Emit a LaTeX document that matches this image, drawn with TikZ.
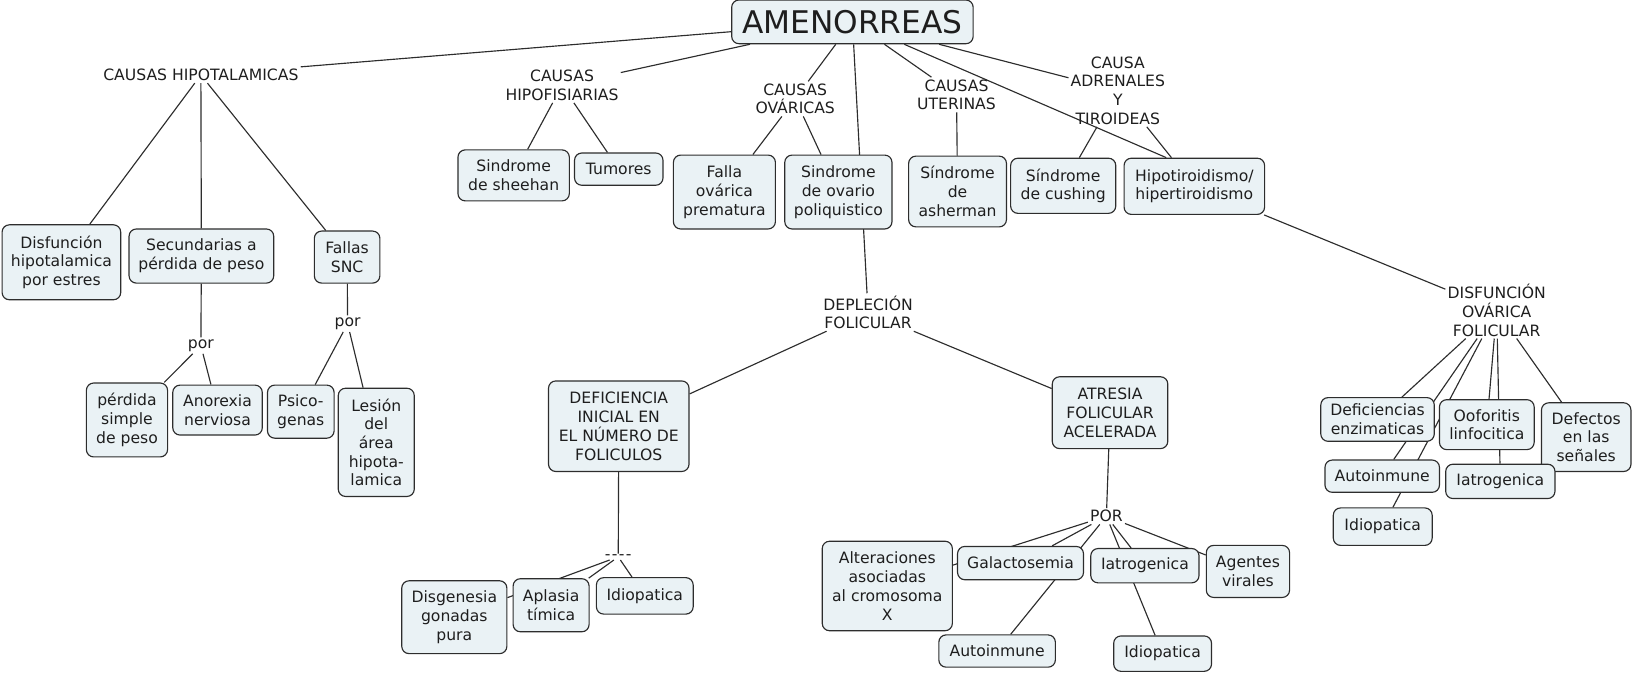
\documentclass[tikz,border=0pt]{standalone}
\usepackage{fontspec}
\setmainfont{DejaVu Sans}
\definecolor{boxfill}{RGB}{234,242,245}
\definecolor{edgec}{RGB}{45,45,45}
\definecolor{txtc}{RGB}{30,30,30}
\pgfdeclarelayer{background}
\pgfsetlayers{background,main}
\begin{document}
\begin{tikzpicture}[x=1pt,y=-1pt,
  every node/.style={font=\fontsize{15}{18}\selectfont, text=txtc, align=center, inner sep=0pt},
  box/.style={draw=edgec, fill=boxfill, rounded corners=7pt, line width=1.1pt},
  lbl/.style={inner sep=2pt},
  con/.style={draw=edgec, line width=1.1pt}]
\useasboundingbox (0,0) rectangle (1568,647.6);

% root
\node[box, minimum width=232pt, minimum height=42pt, font=\fontsize{30}{34}\selectfont] (amen) at (819,21) {AMENORREAS};

% labels
\node[lbl] (hipot) at (193,72) {CAUSAS HIPOTALAMICAS};
\node[lbl] (hipof) at (540,82) {CAUSAS\\HIPOFISIARIAS};
\node[lbl] (lovar) at (764,95) {CAUSAS\\OVÁRICAS};
\node[lbl] (luter) at (919,91) {CAUSAS\\UTERINAS};
\node[lbl] (ladre) at (1074,87) {CAUSA\\ADRENALES\\Y\\TIROIDEAS};
\node[lbl] (por1) at (193,332) {por};
\node[lbl] (por2) at (334,311) {por};
\node[lbl] (deple) at (834,300) {DEPLECIÓN\\FOLICULAR};
\node[lbl, inner sep=0.5pt] (dash) at (594,535) {-\kern1.3pt-\kern1.3pt-\kern1.3pt-};
\node[lbl] (porm) at (1063,496) {POR};
\node[lbl] (disfo) at (1438,298) {DISFUNCIÓN\\OVÁRICA\\FOLICULAR};

% left boxes
\node[box, minimum width=114pt, minimum height=72pt] (disf) at (59,252) {Disfunción\\hipotalamica\\por estres};
\node[box, minimum width=139pt, minimum height=52pt] (secu) at (193.5,246) {Secundarias a\\pérdida de peso};
\node[box, minimum width=63pt, minimum height=50pt] (fall) at (333.5,247) {Fallas\\SNC};
\node[box, minimum width=78pt, minimum height=71pt] (perd) at (122,403.5) {pérdida\\simple\\de peso};
\node[box, minimum width=86pt, minimum height=48pt] (anor) at (209,394) {Anorexia\\nerviosa};
\node[box, minimum width=64pt, minimum height=51pt] (psic) at (289,395.5) {Psico-\\genas};
\node[box, minimum width=73pt, minimum height=104pt] (lesi) at (361.5,425) {Lesión\\del\\área\\hipota-\\lamica};

% top row boxes
\node[box, minimum width=107pt, minimum height=49pt] (shee) at (493.5,168.5) {Sindrome\\de sheehan};
\node[box, minimum width=85pt, minimum height=31pt] (tumo) at (594.5,162.5) {Tumores};
\node[box, minimum width=98pt, minimum height=71pt] (falo) at (696,184.5) {Falla\\ovárica\\prematura};
\node[box, minimum width=103pt, minimum height=71pt] (ovar) at (805.5,184.5) {Sindrome\\de ovario\\poliquistico};
\node[box, minimum width=94pt, minimum height=68pt] (ashe) at (920,184) {Síndrome\\de\\asherman};
\node[box, minimum width=101pt, minimum height=53pt] (cush) at (1021.5,178.5) {Síndrome\\de cushing};
\node[box, minimum width=135pt, minimum height=54pt] (hipo) at (1147.5,179) {Hipotiroidismo/\\hipertiroidismo};

% middle
\node[box, minimum width=135pt, minimum height=87pt] (defi) at (594.5,409.5) {DEFICIENCIA\\INICIAL EN\\EL NÚMERO DE\\FOLICULOS};
\node[box, minimum width=111pt, minimum height=69pt] (atre) at (1066.5,396.5) {ATRESIA\\FOLICULAR\\ACELERADA};
\node[box, minimum width=101pt, minimum height=70pt] (disg) at (436.5,593) {Disgenesia\\gonadas\\pura};
\node[box, minimum width=73pt, minimum height=51pt] (apla) at (529.5,581.5) {Aplasia\\tímica};
\node[box, minimum width=93pt, minimum height=35pt] (idi1) at (619.5,572.5) {Idiopatica};
\node[box, minimum width=125pt, minimum height=86pt] (alte) at (852.5,563) {Alteraciones\\asociadas\\al cromosoma\\X};
\node[box, minimum width=121pt, minimum height=32pt] (gala) at (980.5,541) {Galactosemia};
\node[box, minimum width=104pt, minimum height=33pt] (iatr) at (1100,543.5) {Iatrogenica};
\node[box, minimum width=80pt, minimum height=50pt] (agen) at (1199,549) {Agentes\\virales};
\node[box, minimum width=112pt, minimum height=31pt] (auto) at (958,625.5) {Autoinmune};
\node[box, minimum width=94pt, minimum height=34pt] (idi2) at (1117,628) {Idiopatica};

% right
\node[box, minimum width=109pt, minimum height=42pt] (defc) at (1323.5,403) {Deficiencias\\enzimaticas};
\node[box, minimum width=91pt, minimum height=48pt] (oofo) at (1428.5,408) {Ooforitis\\linfocitica};
\node[box, minimum width=86pt, minimum height=66pt] (defe) at (1524,420) {Defectos\\en las\\señales};
\node[box, minimum width=110pt, minimum height=31pt] (aut2) at (1328,457.5) {Autoinmune};
\node[box, minimum width=105pt, minimum height=33pt] (iat2) at (1441.5,462.5) {Iatrogenica};
\node[box, minimum width=95pt, minimum height=36pt] (idi3) at (1328.5,506) {Idiopatica};

\begin{pgfonlayer}{background}
\path[con] (amen) -- (hipot);
\path[con] (amen) -- (hipof);
\path[con] (amen) -- (lovar);
\path[con] (amen) -- (deple);
\path[con] (amen) -- (luter);
\path[con] (amen) -- (ladre);
\path[con] (amen) -- ([xshift=-27pt]hipo.north);
\path[con] (hipot) -- (disf);
\path[con] (hipot) -- (secu);
\path[con] (hipot) -- (fall);
\path[con] (secu) -- (por1);
\path[con] (por1) -- (perd);
\path[con] (por1) -- (anor);
\path[con] (fall) -- (por2);
\path[con] (por2) -- (psic);
\path[con] (por2) -- (lesi);
\path[con] (hipof) -- (shee);
\path[con] (hipof) -- (tumo);
\path[con] (lovar) -- (falo);
\path[con] (lovar) -- (ovar);
\path[con] (luter) -- (ashe);
\path[con] (ladre) -- (cush);
\path[con] (ladre) -- (hipo);
\path[con] (hipo) -- (disfo);
\path[con] (deple) -- (defi);
\path[con] (deple) -- (atre);
\path[con] (defi) -- (dash);
\path[con] (dash) -- (disg);
\path[con] (dash) -- (apla);
\path[con] (dash) -- (idi1);
\path[con] (atre) -- (porm);
\path[con] (porm) -- (alte);
\path[con] (porm) -- (gala);
\path[con] (porm) -- (auto);
\path[con] (porm) -- (iatr);
\path[con] (porm) -- (idi2);
\path[con] (porm) -- (agen);
\path[con] (disfo) -- (defc);
\path[con] (disfo) -- (aut2);
\path[con] (disfo) -- (idi3);
\path[con] (disfo) -- (oofo);
\path[con] (disfo) -- (iat2);
\path[con] (disfo) -- (defe);
\end{pgfonlayer}
\end{tikzpicture}
\end{document}
